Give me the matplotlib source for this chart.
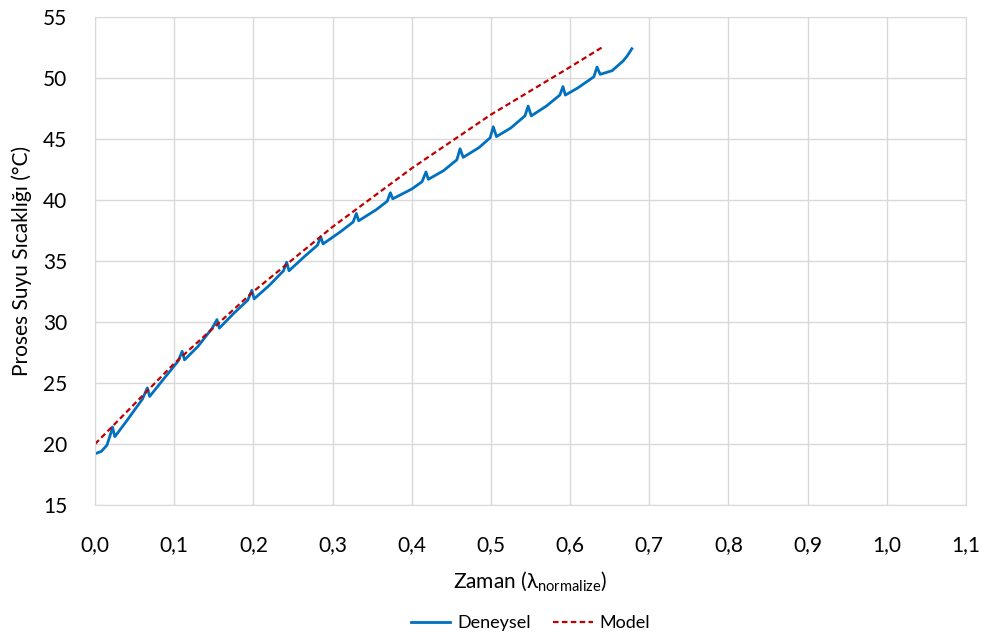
import numpy as np
import matplotlib
matplotlib.use('Agg')
import matplotlib.pyplot as plt

x_deneysel = [0.000, 0.008, 0.015, 0.020, 0.022, 0.025, 0.040, 0.060, 0.066, 0.069,
              0.085, 0.105, 0.110, 0.113, 0.130, 0.148, 0.154, 0.157, 0.175, 0.193,
              0.198, 0.201, 0.220, 0.238, 0.242, 0.245, 0.265, 0.281, 0.285, 0.288,
              0.310, 0.326, 0.330, 0.333, 0.355, 0.369, 0.373, 0.376, 0.400, 0.413,
              0.418, 0.421, 0.440, 0.457, 0.461, 0.465, 0.485, 0.499, 0.503, 0.507,
              0.525, 0.543, 0.547, 0.551, 0.570, 0.587, 0.591, 0.594, 0.610, 0.630,
              0.634, 0.638, 0.653, 0.667, 0.672, 0.678]
y_deneysel = [19.2, 19.4, 19.9, 20.9, 21.4, 20.6, 21.9, 23.7, 24.6, 23.9,
              25.2, 26.8, 27.6, 26.9, 28.0, 29.5, 30.2, 29.5, 30.7, 31.8,
              32.6, 31.9, 33.0, 34.2, 34.9, 34.2, 35.4, 36.3, 37.0, 36.4,
              37.4, 38.2, 38.9, 38.3, 39.2, 39.9, 40.6, 40.1, 40.9, 41.5,
              42.3, 41.7, 42.4, 43.3, 44.2, 43.5, 44.3, 45.1, 46.0, 45.2,
              45.9, 46.9, 47.7, 46.9, 47.7, 48.6, 49.3, 48.6, 49.2, 50.1,
              50.9, 50.3, 50.6, 51.4, 51.8, 52.4]

# Model curve
x_model = [0.0, 0.1, 0.2, 0.3, 0.4, 0.5, 0.6, 0.64]
y_model = [20.0, 26.6, 32.5, 37.8, 42.6, 47.0, 50.9, 52.5]

x_ticks = [0.0, 0.1, 0.2, 0.3, 0.4, 0.5, 0.6, 0.7, 0.8, 0.9, 1.0, 1.1]
y_ticks = [15, 20, 25, 30, 35, 40, 45, 50, 55]

plt.rcParams['font.family'] = ['Lato', 'DejaVu Sans']
plt.rcParams['mathtext.fontset'] = 'custom'
plt.rcParams['mathtext.rm'] = 'Lato'

fig = plt.figure(figsize=(9.88, 6.4), dpi=100)
ax = fig.add_axes([0.0962, 0.2109, 0.8815, 0.7625])

ax.plot(x_deneysel, y_deneysel, color='#0070C0', linewidth=2, label='Deneysel')
ax.plot(x_model, y_model, color='#C00000', linewidth=1.6, dashes=(2.5, 1.5), label='Model')

ax.set_xlim(0, 1.1)
ax.set_ylim(15, 55)
ax.set_xticks(x_ticks)
ax.set_xticklabels(['{:.1f}'.format(v).replace('.', ',') for v in x_ticks])
ax.set_yticks(y_ticks)
ax.grid(True, color='#D9D9D9', linewidth=1)
ax.set_axisbelow(True)
for s in ax.spines.values():
    s.set_color('#D9D9D9')
ax.tick_params(length=0, labelsize=15, colors='black')
ax.tick_params(axis='y', pad=20)
ax.tick_params(axis='x', pad=22)

ax.set_xlabel('Zaman (λ$_{\\mathrm{normalize}}$)', fontsize=15, labelpad=10)
ax.set_ylabel('Proses Suyu Sıcaklığı (°C)', fontsize=15, labelpad=8)

fig.legend(loc='lower center', bbox_to_anchor=(0.537, -0.012), ncol=2, frameon=False,
           fontsize=13, handlelength=2.2, handletextpad=0.4, columnspacing=1.2)

fig.savefig('out.png', dpi=100)
